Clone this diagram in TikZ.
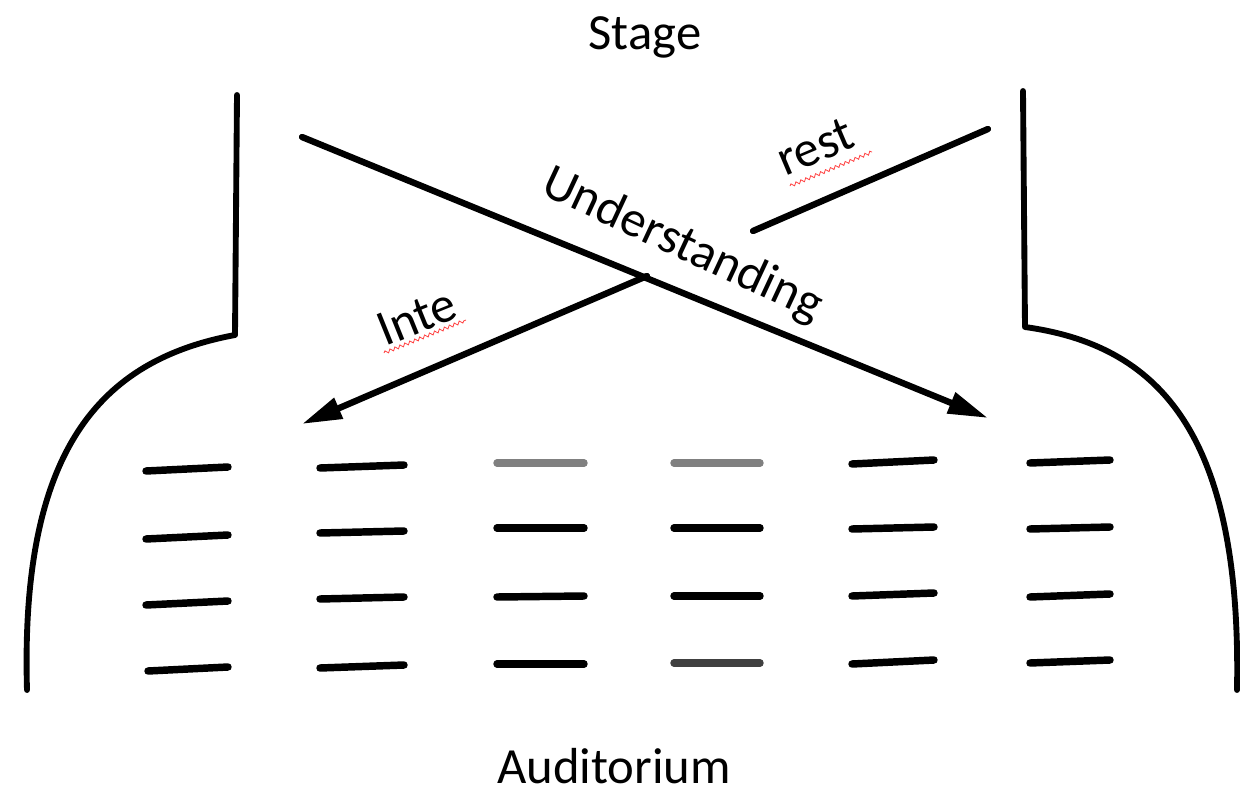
\documentclass[tikz,border=0pt]{standalone}
\usepackage{fontspec}
\setmainfont{Carlito}
\usetikzlibrary{arrows.meta,decorations.pathmorphing}

\begin{document}
\begin{tikzpicture}[x=0.75pt,y=-0.75pt,
  wall/.style={line width=4.4pt,line cap=round,line join=round},
  flow/.style={line width=4.8pt,line cap=round},
  flowhead/.style={-{Triangle[length=30pt,width=16pt]}},
  seat/.style={line width=5.6pt,line cap=round},
  paleseat/.style={seat,draw=black!50},
  greyseat/.style={seat,draw=black!75},
  label/.style={font=\fontsize{38}{40}\selectfont,inner sep=0pt},
  squiggle/.style={draw=red!75,line width=0.6pt,
    decorate,decoration={snake,amplitude=1.2pt,segment length=4pt}}]

  \useasboundingbox (0,0) rectangle (1240,789);

  % headings
  \node[label,anchor=base] (stage) at (645,49) {Stage};
  \node[label,anchor=base] (hall) at (614,783) {Auditorium};

  % side walls of the hall
  \draw[wall] (237,95) -- (235,335)
    .. controls (100,360) and (20,450) .. (27,690);
  \draw[wall] (1023,91) -- (1025,327)
    .. controls (1155,345) and (1242,428) .. (1237,690);

  % crossing arrows
  \coordinate (u0) at (302,137);
  \coordinate (u1) at (988,418);
  \coordinate (r0) at (988,129);
  \coordinate (r1) at (753,231);
  \coordinate (i0) at (647,276);
  \coordinate (i1) at (302,424);

  \draw[flow,flowhead] (u0) -- (u1);
  \draw[flow] (r0) -- (r1);
  \draw[flow,flowhead] (i0) -- (i1);

  % arrow labels
  \node[label,anchor=base west,rotate=-25] (und) at (539,193) {Understanding};
  \node[label,anchor=base west,rotate=23] (rest) at (785,177) {rest};
  \node[label,anchor=base west,rotate=22] (inte) at (385,347) {Inte};
  \draw[squiggle] (790,186) -- (872,152);
  \draw[squiggle] (384,353) -- (466,320);

  % rows of seats
  \foreach \xa/\xb/\ya/\yb in {
      146/228/471/467, 146/228/539/535, 146/228/605/601, 148/228/671/667,
      320/404/468/465, 320/404/533/531, 320/404/599/597, 320/404/668/665,
      497/584/528/528, 497/584/597/596, 497/584/664/664,
      674/760/528/528, 674/760/596/596,
      852/934/464/460, 852/934/529/527, 852/934/596/593, 852/934/664/660,
      1030/1110/463/460, 1030/1110/529/527, 1030/1110/597/594, 1030/1110/663/660}
    \draw[seat] (\xa,\ya) -- (\xb,\yb);
  \draw[paleseat] (497,463) -- (584,463);
  \draw[paleseat] (674,463) -- (760,463);
  \draw[greyseat] (674,663) -- (760,663);
\end{tikzpicture}
\end{document}
